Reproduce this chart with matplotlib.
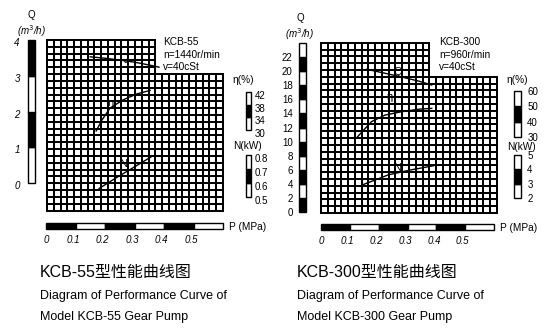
import matplotlib
matplotlib.use('Agg')
import matplotlib.pyplot as plt
import matplotlib.transforms as mtransforms

# ---- data ----
P_TICKS = [0, 0.1, 0.2, 0.3, 0.4, 0.5]
P_MAX = 0.6

# KCB-55
Q55_TICKS = [0, 1, 2, 3, 4]
ETA55_TICKS = [30, 34, 38, 42]
N55_TICKS = [0.5, 0.6, 0.7, 0.8]
Q55_P = [0.15, 0.20, 0.25, 0.30, 0.35, 0.383]
Q55 = [3.53, 3.49, 3.44, 3.38, 3.30, 3.24]
ETA55_P = [0.170, 0.190, 0.217, 0.261, 0.308, 0.353]
ETA55 = [29.7, 33.2, 36.9, 39.5, 41.4, 42.5]
N55_P = [0.180, 0.240, 0.300, 0.358]
N55 = [0.561, 0.640, 0.715, 0.789]

# KCB-300
Q300_TICKS = [0, 2, 4, 6, 8, 10, 12, 14, 16, 18, 20, 22]
ETA300_TICKS = [30, 40, 50, 60]
N300_TICKS = [2, 3, 4, 5]
Q300_P = [0.158, 0.22, 0.28, 0.34, 0.384]
Q300 = [20.3, 19.75, 19.2, 18.6, 18.05]
ETA300_P = [0.127, 0.175, 0.222, 0.280, 0.338, 0.384]
ETA300 = [30.2, 40.0, 44.3, 46.5, 48.1, 48.7]
N300_P = [0.143, 0.233, 0.309, 0.390]
N300 = [2.91, 3.61, 3.95, 4.25]

W, H = 550, 336
FONT = 'Liberation Sans'
N_COLS, N_ROWS = 26, 25
TOP_COLS, TOP_ROWS = 16, 5

fig = plt.figure(figsize=(W / 100, H / 100), dpi=100)
fig.patch.set_facecolor('white')


def box(x0, y0, x1, y1):
    # pixel box (y downward) -> figure fraction
    return [x0 / W, 1 - y1 / H, (x1 - x0) / W, (y1 - y0) / H]


def ftext(x, y, s, **kw):
    kw.setdefault('family', FONT)
    kw.setdefault('fontsize', 7.3)
    fig.text(x / W, 1 - y / H, s, **kw)


def shift(labels, dx, dy):
    # the printed scale labels sit a little off their marks
    off = mtransforms.ScaledTranslation(dx / 100, -dy / 100, fig.dpi_scale_trans)
    for lab in labels:
        lab.set_transform(lab.get_transform() + off)


def draw_grid(b):
    ax = fig.add_axes(box(*b))
    ax.set_xlim(0, N_COLS)
    ax.set_ylim(0, N_ROWS)
    ax.axis('off')
    low = N_ROWS - TOP_ROWS
    for c in range(N_COLS + 1):
        ax.plot([c, c], [0, N_ROWS if c <= TOP_COLS else low], color='black', lw=1.45,
                solid_capstyle='projecting', clip_on=False)
    for r in range(N_ROWS + 1):
        ax.plot([0, N_COLS if r <= low else TOP_COLS], [r, r], color='black', lw=1.45,
                solid_capstyle='projecting', clip_on=False)


def vbar(b, ticks, top, black_first, side, italic, pad, dy=0):
    ax = fig.add_axes(box(*b))
    edges = ticks + [top] if ticks[-1] < top else ticks
    for i in range(len(edges) - 1):
        black = (i % 2 == 0) == black_first
        ax.bar(0.5, edges[i + 1] - edges[i], bottom=edges[i], width=1,
               color='black' if black else 'white', edgecolor='black', lw=1.0,
               clip_on=False)
    ax.set_xlim(0, 1)
    ax.set_ylim(ticks[0], top)
    ax.set_xticks([])
    for s in ax.spines.values():
        s.set_visible(False)
    ax.set_yticks(ticks)
    ax.set_yticklabels([('%g' % t) for t in ticks], family=FONT, fontsize=7,
                       style='italic' if italic else 'normal')
    if side == 'right':
        ax.yaxis.tick_right()
    ax.tick_params(axis='y', length=0, pad=pad)
    if dy:
        shift(ax.get_yticklabels(), 0, dy)
    return ax


def pbar(b):
    ax = fig.add_axes(box(*b))
    edges = P_TICKS + [P_MAX]
    for i in range(len(edges) - 1):
        ax.barh(0.5, edges[i + 1] - edges[i], left=edges[i], height=1,
                color='black' if i % 2 == 0 else 'white', edgecolor='black', lw=1.0,
                clip_on=False)
    ax.set_xlim(0, P_MAX)
    ax.set_ylim(0, 1)
    ax.set_yticks([])
    for s in ax.spines.values():
        s.set_visible(False)
    ax.set_xticks(P_TICKS)
    ax.set_xticklabels([('%g' % t) for t in P_TICKS], family=FONT, fontsize=7,
                       style='italic')
    ax.tick_params(axis='x', length=0, pad=4.5)
    shift(ax.get_xticklabels()[1:], -2.5, 0)


def curve(xspan, yspan, lim, px, vals, label, lpos):
    ax = fig.add_axes(box(xspan[0], yspan[0], xspan[1], yspan[1]))
    ax.set_xlim(0, P_MAX)
    ax.set_ylim(*lim)
    ax.axis('off')
    ax.plot(px, vals, color='black', lw=1.0, clip_on=False)
    ax.text(lpos[0], lpos[1], label, family=FONT, fontsize=8, ha='center', va='center')


# ================= KCB-55 =================
draw_grid((47, 40, 223, 210.5))
vbar((28, 40, 35, 183), Q55_TICKS, 4, False, 'left', True, 6, dy=2)
vbar((245.5, 92, 251, 130), ETA55_TICKS, 42, False, 'right', False, 2.5, dy=3)
vbar((245.5, 155, 251, 197), N55_TICKS, 0.8, False, 'right', False, 2.5, dy=3)
pbar((46, 222.5, 223, 228.5))
xs = (46, 223)
curve(xs, (40, 183), (0, 4), Q55_P, Q55, 'Q', (0.264, 3.50))
curve(xs, (92, 130), (30, 42), ETA55_P, ETA55, 'η', (0.22, 38.5))
curve(xs, (155, 197), (0.5, 0.8), N55_P, N55, 'N', (0.261, 0.736))

ftext(31, 15, 'Q', ha='center', va='center', fontsize=7)
ftext(31, 31, '(m$^3$/h)', ha='center', va='center', fontsize=7, style='italic')
ftext(163, 42, 'KCB-55', va='center')
ftext(163, 54.5, 'n=1440r/min', va='center')
ftext(163, 67, 'v=40cSt', va='center')
ftext(243, 80, 'η(%)', ha='center', va='center')
ftext(247, 146, 'N(kW)', ha='center', va='center')
ftext(229, 227, 'P (MPa)', va='center')

# ================= KCB-300 =================
draw_grid((321, 42.7, 497, 213))
vbar((299, 43.3, 306, 211.7), Q300_TICKS, 24, True, 'left', False, 4.5)
vbar((514, 91, 521, 137), ETA300_TICKS, 60, False, 'right', False, 4.5)
vbar((514, 155, 521, 198), N300_TICKS, 5, False, 'right', False, 4.5)
pbar((321, 223.5, 494, 229.5))
xs = (321, 494)
curve(xs, (43.3, 211.7), (0, 24), Q300_P, Q300, 'Q', (0.268, 19.94))
curve(xs, (91, 137), (30, 60), ETA300_P, ETA300, 'η', (0.239, 56.3))
curve(xs, (155, 198), (2, 5), N300_P, N300, 'N', (0.263, 4.07))

ftext(300, 18, 'Q', ha='center', va='center', fontsize=7)
ftext(299, 34, '(m$^3$/h)', ha='center', va='center', fontsize=7, style='italic')
ftext(439, 42, 'KCB-300', va='center')
ftext(439, 54.5, 'n=960r/min', va='center')
ftext(439, 67, 'v=40cSt', va='center')
ftext(517, 80, 'η(%)', ha='center', va='center')
ftext(521, 147, 'N(kW)', ha='center', va='center')
ftext(500, 228, 'P (MPa)', va='center')

# ---- captions ----
cap_font = [FONT, 'Noto Sans CJK SC']
for x, model in ((40, '55'), (297, '300')):
    ftext(x, 273, 'KCB-%s型性能曲线图' % model, va='center', fontsize=11.5, family=cap_font)
    ftext(x, 296, 'Diagram of Performance Curve of', va='center', fontsize=9)
    ftext(x, 317, 'Model KCB-%s Gear Pump' % model, va='center', fontsize=9)

fig.savefig('out.png', dpi=100, facecolor='white')
